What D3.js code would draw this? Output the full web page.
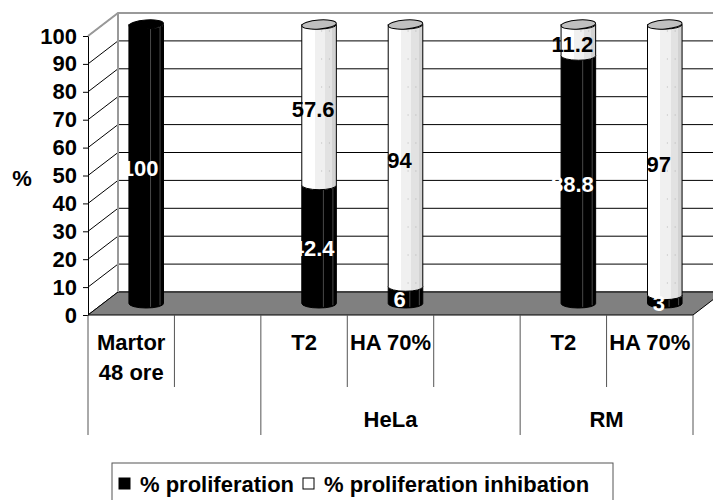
<!DOCTYPE html>
<html>
<head>
<meta charset="utf-8">
<script src="https://cdn.jsdelivr.net/npm/d3@7"></script>
<style>
  body { margin: 0; background: #fff; }
  svg { display: block; font-family: "Liberation Sans", Arial, sans-serif; font-weight: bold; }
</style>
</head>
<body>
<svg width="713" height="500"></svg>
<script>
// categories on the first row of the axis, groups on the second
const categories = ["Martor\n48 ore", "", "T2", "HA 70%", "", "T2", "HA 70%"];
const groupLabels = ["", "HeLa", "RM"];
const groupOf = [0, 0, 1, 1, 1, 2, 2];
const seriesNames = ["% proliferation", "% proliferation inhibation"];
const proliferation = [100, null, 42.4, 6, null, 88.8, 3];
const inhibition = [0, null, 57.6, 94, null, 11.2, 97];
const yTicks = [0, 10, 20, 30, 40, 50, 60, 70, 80, 90, 100];

const svg = d3.select("svg");
const depthX = 30, depthY = -23; // 3d depth offset of the back wall
const fontSize = 22;

const x = d3.scaleBand()
    .domain(d3.range(categories.length))
    .range([88, 693]);
const y = d3.scaleLinear()
    .domain([0, 100])
    .range([315, 36]);

const defs = svg.append("defs");
const grad = defs.append("linearGradient").attr("id", "whiteCyl")
    .attr("x1", 0).attr("x2", 1).attr("y1", 0).attr("y2", 0);
[[0, "#ffffff"], [0.37, "#ffffff"], [0.37, "#f0f0f0"], [0.67, "#f0f0f0"],
 [0.67, "#e2e2e2"], [0.88, "#e2e2e2"], [0.88, "#d2d2d2"], [1, "#d2d2d2"]]
    .forEach(s => grad.append("stop").attr("offset", s[0]).attr("stop-color", s[1]));

const x0 = x.range()[0], x1 = x.range()[1];

// back wall gridlines
const back = svg.append("g");
back.selectAll("line.grid")
    .data(yTicks)
    .join("line")
    .attr("x1", x0 + depthX).attr("x2", x1 + depthX)
    .attr("y1", d => y(d) + depthY).attr("y2", d => y(d) + depthY)
    .attr("stroke", "#000").attr("stroke-width", 1);

// left side wall
back.selectAll("line.side")
    .data(yTicks)
    .join("line")
    .attr("x1", x0).attr("y1", d => y(d))
    .attr("x2", x0 + depthX).attr("y2", d => y(d) + depthY)
    .attr("stroke", "#000").attr("stroke-width", 1);

// floor
back.append("polygon")
    .attr("points", [
        [x0, y(0)], [x1, y(0)], [x1 + depthX, y(0) + depthY], [x0 + depthX, y(0) + depthY]
    ].map(p => p.join(",")).join(" "))
    .attr("fill", "#808080")
    .attr("stroke", "#000").attr("stroke-width", 1);

// wall borders
back.append("path")
    .attr("d", `M${x0},${y(100)} L${x0 + depthX},${y(100) + depthY} L${x1 + depthX},${y(100) + depthY}
                M${x0 + depthX},${y(100) + depthY} L${x0 + depthX},${y(0) + depthY}`)
    .attr("fill", "none").attr("stroke", "#999").attr("stroke-width", 2);

// cylinders
const rx = x.bandwidth() * 0.2, ry = 4.5;
function bodyPath(cx, t, b) {
    return `M${cx - rx},${t} L${cx - rx},${b} A${rx},${ry} 0 0 0 ${cx + rx},${b}` +
        ` L${cx + rx},${t} A${rx},${ry} 0 0 1 ${cx - rx},${t} Z`;
}

const bars = svg.append("g");
const labels = [];
categories.forEach((c, i) => {
    if (proliferation[i] == null) return;
    const cx = x(i) + x.bandwidth() / 2 + depthX / 2;
    const off = depthY / 2;
    const segs = [
        { v0: 0, v1: proliferation[i], dark: true },
        { v0: proliferation[i], v1: proliferation[i] + inhibition[i], dark: false }
    ].filter(s => s.v1 > s.v0);
    segs.forEach(s => {
        const t = y(s.v1) + off, b = y(s.v0) + off;
        bars.append("path")
            .attr("d", bodyPath(cx, t, b))
            .attr("fill", s.dark ? "#000" : "url(#whiteCyl)")
            .attr("stroke", "#000").attr("stroke-width", 1);
        if (s.dark) {
            [0.25, 0.8].forEach(f => bars.append("line")
                .attr("x1", cx + f * rx).attr("x2", cx + f * rx)
                .attr("y1", t + 2).attr("y2", b + ry * Math.sqrt(1 - f * f) - 1)
                .attr("stroke", "#5a5a5a").attr("stroke-width", 0.8));
        } else {
            [0.15, 0.6].forEach(f => bars.append("line")
                .attr("x1", cx + f * rx).attr("x2", cx + f * rx)
                .attr("y1", t + 6).attr("y2", b - 2)
                .attr("stroke", "#aaa").attr("stroke-width", 0.8)
                .attr("stroke-dasharray", "1,27"));
        }
        labels.push({ x: cx - 6, y: y((s.v0 + s.v1) / 2) + off + 4, text: s.dark ? proliferation[i] : inhibition[i], dark: s.dark });
    });
    const top = segs[segs.length - 1];
    bars.append("ellipse")
        .attr("cx", cx).attr("cy", y(top.v1) + off)
        .attr("rx", rx).attr("ry", ry)
        .attr("transform", `rotate(-4, ${cx}, ${y(top.v1) + off})`)
        .attr("fill", top.dark ? "#000" : "#c0c0c0")
        .attr("stroke", "#000").attr("stroke-width", 1);
});

// data labels
svg.append("g").selectAll("text")
    .data(labels)
    .join("text")
    .attr("x", d => d.x).attr("y", d => d.y)
    .attr("dy", "0.36em")
    .attr("text-anchor", "middle")
    .attr("font-size", fontSize)
    .attr("fill", d => d.dark ? "#fff" : "#000")
    .text(d => d.text);

// y axis on the front edge
const yAxis = svg.append("g")
    .attr("transform", `translate(${x0},0)`)
    .call(d3.axisLeft(y).tickValues(yTicks).tickSize(5).tickSizeOuter(0).tickPadding(6));
yAxis.select(".domain").attr("stroke", "#000");
yAxis.selectAll("text").attr("font-size", fontSize).attr("font-family", "Liberation Sans, Arial").attr("font-weight", "bold").attr("fill", "#000");

svg.append("text")
    .attr("x", 22).attr("y", 178).attr("dy", "0.36em")
    .attr("text-anchor", "middle").attr("font-size", fontSize)
    .text("%");

// category table under the floor
const table = svg.append("g").attr("stroke", "#555").attr("stroke-width", 1);
const row1 = 387, row2 = 435;
d3.range(categories.length + 1).forEach(k => {
    const xx = k < categories.length ? x(k) : x1;
    const isGroupEdge = k === 0 || k === categories.length || groupOf[k] !== groupOf[k - 1];
    table.append("line")
        .attr("x1", xx).attr("x2", xx)
        .attr("y1", y(0)).attr("y2", isGroupEdge ? row2 : row1);
});

svg.append("g").selectAll("text")
    .data(categories)
    .join("text")
    .attr("x", (d, i) => x(i) + x.bandwidth() / 2)
    .attr("y", 350)
    .attr("text-anchor", "middle")
    .attr("font-size", fontSize)
    .each(function (d) {
        d3.select(this).selectAll("tspan")
            .data(d.split("\n"))
            .join("tspan")
            .attr("x", d3.select(this).attr("x"))
            .attr("dy", (t, j) => j === 0 ? 0 : 30)
            .text(t => t);
    });

svg.append("g").selectAll("text")
    .data(groupLabels)
    .join("text")
    .attr("x", (g, gi) => {
        const idx = d3.range(categories.length).filter(i => groupOf[i] === gi);
        return (x(idx[0]) + x(idx[idx.length - 1]) + x.bandwidth()) / 2;
    })
    .attr("y", 427)
    .attr("text-anchor", "middle")
    .attr("font-size", fontSize)
    .text(g => g);

// legend
const legend = svg.append("g");
legend.append("rect")
    .attr("x", 112).attr("y", 463).attr("width", 501).attr("height", 50)
    .attr("fill", "#fff").attr("stroke", "#555").attr("stroke-width", 1);
const legendX = [119, 303];
seriesNames.forEach((name, i) => {
    legend.append("rect")
        .attr("x", legendX[i]).attr("y", 478).attr("width", 11).attr("height", 11)
        .attr("fill", i === 0 ? "#000" : "#fff")
        .attr("stroke", "#000").attr("stroke-width", 1);
    legend.append("text")
        .attr("x", legendX[i] + 21).attr("y", 492)
        .attr("font-size", fontSize)
        .text(name);
});
</script>
</body>
</html>
